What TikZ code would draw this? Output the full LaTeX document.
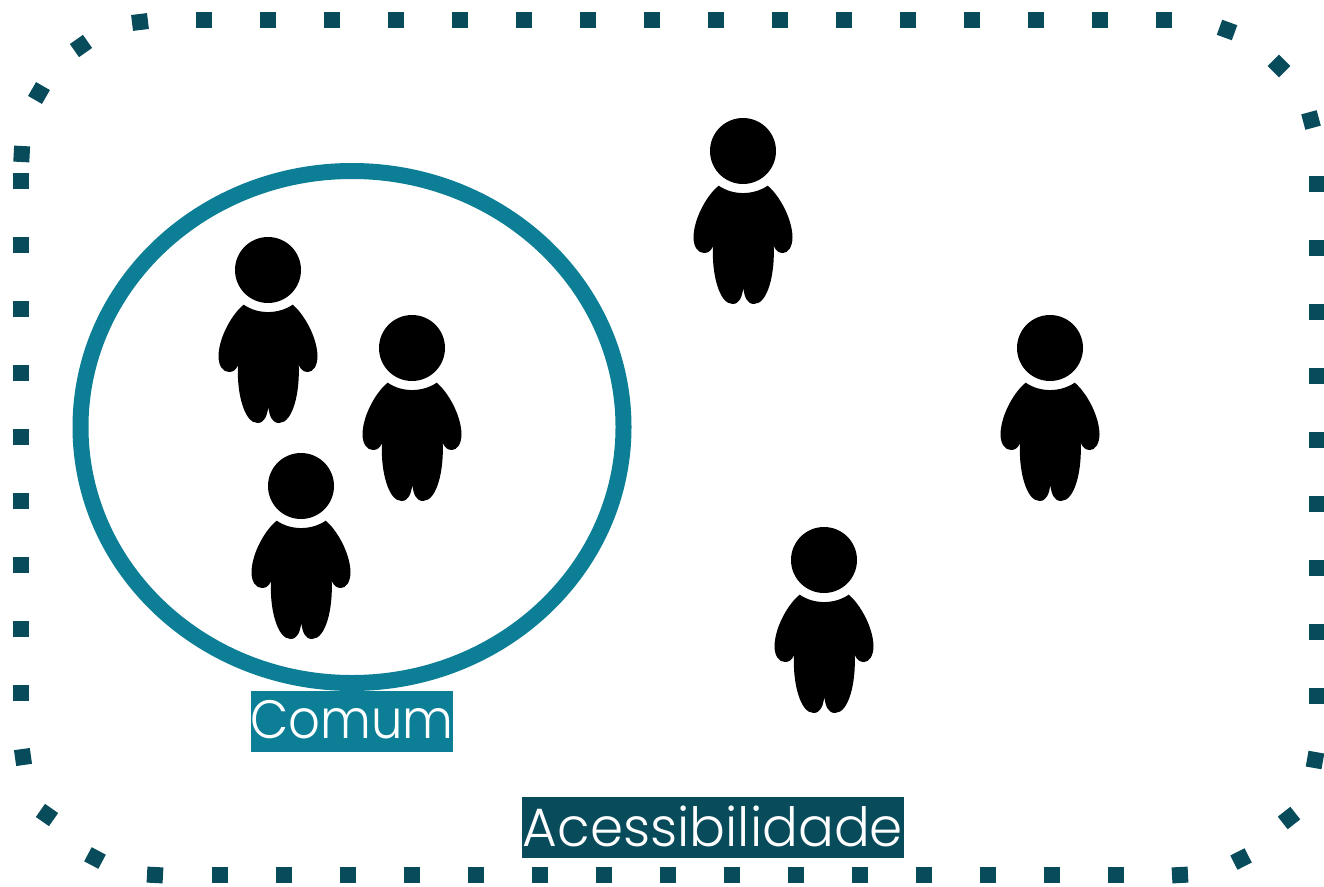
\documentclass[tikz,border=0pt]{standalone}
\usepackage{fontspec}
\setmainfont{Poppins Light}
\definecolor{tealc}{HTML}{0C7F97}
\definecolor{darkc}{HTML}{084C5B}
\tikzset{
  sq/.style={fill=darkc,draw=none,minimum size=16pt,inner sep=0pt,outer sep=0pt,shape=rectangle},
  labelbox/.style={inner sep=0pt,outer sep=0pt,text=white,font=\fontsize{54}{54}\selectfont,anchor=center},
  person/.pic={
    \fill[black] (0,0) circle (33);
    \fill[black] (-24.3,34.7) .. controls (-10,44.5) and (10,44.5) .. (24.7,34.7)
      .. controls (35,43) and (49,66) .. (49.5,86)
      .. controls (49.5,96) and (45,102) .. (40,102)
      .. controls (36,102) and (33,100) .. (30.7,95)
      .. controls (32,122) and (25,153) .. (11,153)
      .. controls (4,153) and (1.5,146) .. (0.3,137)
      .. controls (-1,146) and (-3.5,153) .. (-10.5,153)
      .. controls (-24,153) and (-31.5,122) .. (-30,95)
      .. controls (-32,100) and (-35,102) .. (-39,102)
      .. controls (-45,102) and (-49.5,96) .. (-49.5,86)
      .. controls (-49,66) and (-35,43) .. (-24.3,34.7) -- cycle;
  }
}
\begin{document}
\begin{tikzpicture}[x=1pt,y=-1pt]
\useasboundingbox (0,0) rectangle (1324,886);
\foreach \x in {204,268,...,1164} \node[sq] at (\x,20) {};
\foreach \y in {181,245,...,693} \node[sq] at (21,\y) {};
\foreach \y in {184,248,...,696} \node[sq] at (1317,\y) {};
\foreach \x in {220,284,...,1116} \node[sq] at (\x,875) {};
\foreach \x/\y/\r in {21.7/154/-3, 39/93/-30, 81/46/35, 140/22/7,
  1227/30/-20, 1279/66/-45, 1311/120/15,
  23/757/8, 47/815/-35, 95/858/-28, 155/875/-3,
  1180/875/3, 1241/859/27, 1289/818/38, 1315/760/-10}
  \node[sq,rotate=\r] at (\x,\y) {};
\draw[tealc,line width=16pt] (352,427) ellipse [x radius=271.5,y radius=256];
\foreach \x/\y in {268/270,412/348,301/486,743/151,1050/348,824/560}
  \pic at (\x,\y) {person};
\fill[tealc] (251,691) rectangle (453,752);
\fill[darkc] (522,797) rectangle (904,858);
\node[labelbox,xscale=.92,transform shape] (comum) at (352,720) {Comum};
\node[labelbox,xscale=.985,transform shape] (acess) at (713,826) {Acessibilidade};
\end{tikzpicture}
\end{document}
